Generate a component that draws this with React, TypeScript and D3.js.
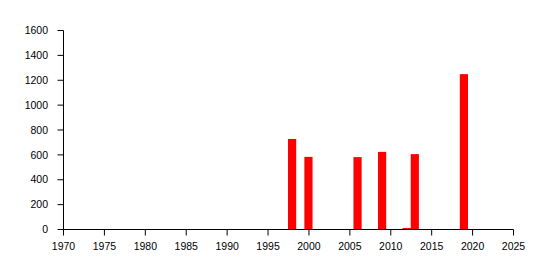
import React from "react";
import * as d3 from "d3";

const years = [1998, 2000, 2006, 2009, 2012, 2013, 2019];
const values = [724, 580, 578, 620, 8, 602, 1245];
const xTicks = [1970, 1975, 1980, 1985, 1990, 1995, 2000, 2005, 2010, 2015, 2020, 2025];
const yTicks = [0, 200, 400, 600, 800, 1000, 1200, 1400, 1600];

export default function App() {
  const W = 549, H = 270;
  const x = d3.scaleLinear().domain([1970, 2025]).range([63.5, 513.5]);
  const y = d3.scaleLinear().domain([0, 1600]).range([229.5, 30.5]);
  const font = "'Liberation Sans', Arial, sans-serif";
  return (
    <svg width={W} height={H} style={{ position: "absolute", left: 0, top: 0, background: "#fff" }}>
      {years.map((yr, i) => (
        <rect key={yr} x={x(yr - 0.5) - 0.5} width={x(yr + 0.5) - x(yr - 0.5)} y={y(values[i]) - 0.5}
          height={y(0) - y(values[i])} fill="#ff0000" />
      ))}
      <line x1={x(1970)} x2={x(1970)} y1={y(1600)} y2={y(0)} stroke="#000" />
      <line x1={x(1970)} x2={x(2025)} y1={y(0)} y2={y(0)} stroke="#000" />
      {yTicks.map(t => (
        <g key={t}>
          <line x1={x(1970) - 6} x2={x(1970)} y1={y(t)} y2={y(t)} stroke="#000" />
          <text x={48} y={y(t)} dy="0.35em" textAnchor="end" fontFamily={font} fontSize={10.5}>{t}</text>
        </g>
      ))}
      {xTicks.map(t => (
        <g key={t}>
          <line x1={x(t)} x2={x(t)} y1={y(0)} y2={y(0) + 6} stroke="#000" />
          <text x={x(t)} y={250} textAnchor="middle" fontFamily={font} fontSize={10.5}>{t}</text>
        </g>
      ))}
    </svg>
  );
}
